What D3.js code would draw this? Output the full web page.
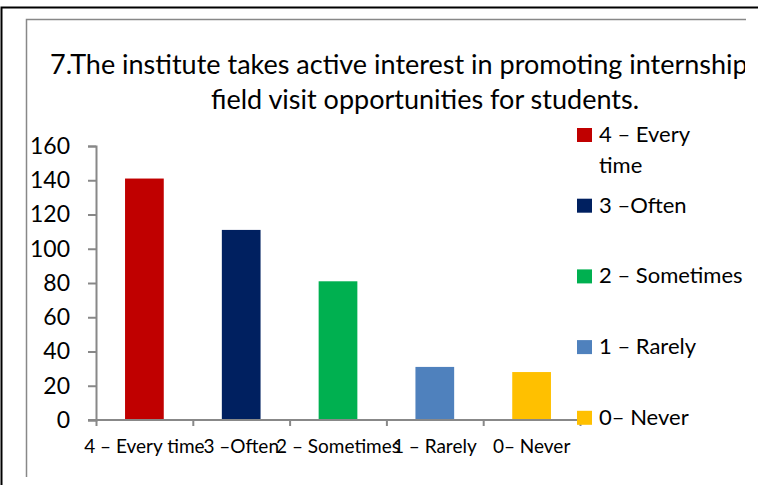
<!DOCTYPE html>
<html>
<head>
<meta charset="utf-8">
<script src="https://cdn.jsdelivr.net/npm/d3@7"></script>
<style>
  body { margin: 0; background: #fff; }
  svg { display: block; font-family: Lato, "Open Sans", sans-serif; }
</style>
</head>
<body>
<svg id="chart" width="758" height="485"></svg>
<script>
// data
const categories = ['4 \u2013 Every time', '3 \u2013Often', '2 \u2013 Sometimes', '1 \u2013 Rarely', '0\u2013 Never']
const counts = [141, 111, 81, 31, 28]
const colors = ['#c00000', '#002060', '#00b050', '#4f81bd', '#ffc000']
const yTicks = [0, 20, 40, 60, 80, 100, 120, 140, 160]
const titleLines = ['7.The institute takes active interest in promoting internship', 'field visit opportunities for students.']
const legendLines = [['4 \u2013 Every', 'time'], ['3 \u2013Often'], ['2 \u2013 Sometimes'], ['1 \u2013 Rarely'], ['0\u2013 Never']]

let svg = d3.select('#chart')

// frames
svg.append('path')
  .attr('d', 'M1.5,485 V7.5 H758')
  .attr('fill', 'none')
  .attr('stroke', '#000')
  .attr('stroke-width', 2)
svg.append('path')
  .attr('d', 'M26.5,477 V19.5 H746')
  .attr('fill', 'none')
  .attr('stroke', '#888')
  .attr('stroke-width', 1.5)

// the first title line runs past the chart area, as in the source
svg.append('clipPath')
  .attr('id', 'clip')
  .append('rect')
  .attr('x', 27).attr('y', 20).attr('width', 718).attr('height', 460)

// title
let title = svg.append('g').attr('clip-path', 'url(#clip)')
title.selectAll('text')
  .data(titleLines)
  .enter()
  .append('text')
  .attr('x', (d, i) => i === 0 ? 50 : 425)
  .attr('y', (d, i) => 74 + i * 35)
  .attr('text-anchor', (d, i) => i === 0 ? 'start' : 'middle')
  .attr('font-size', 27)
  .attr('fill', '#000')
  .text(d => d)

let y = d3.scaleLinear()
  .domain([0, 160])
  .range([420, 146])

let x = d3.scaleBand()
  .domain(categories)
  .range([96, 580])
  .paddingInner(0.6)
  .paddingOuter(0.3)

// bars
svg.selectAll('rect.bar')
  .data(categories)
  .enter()
  .append('rect')
  .attr('class', 'bar')
  .attr('x', d => x(d))
  .attr('width', x.bandwidth())
  .attr('y', (d, i) => y(counts[i]))
  .attr('height', (d, i) => y(0) - y(counts[i]))
  .attr('fill', (d, i) => colors[i])

// y axis
let yAxis = d3.axisLeft(y)
  .tickValues(yTicks)
  .tickSize(8)
  .tickPadding(18)
svg.append('g')
  .attr('transform', 'translate(96,0)')
  .call(yAxis)
  .call(g => g.selectAll('path, line').attr('stroke', '#888').attr('stroke-width', 2))
  .call(g => g.selectAll('text').attr('font-size', 23).attr('fill', '#000').attr('font-family', 'Lato'))

// x axis, ticks sit between categories
let edges = d3.scaleLinear().domain([0, categories.length]).range([96, 580])
let xAxis = d3.axisBottom(edges)
  .tickValues(d3.range(categories.length + 1))
  .tickSize(6)
  .tickFormat('')
svg.append('g')
  .attr('transform', 'translate(0,420)')
  .call(xAxis)
  .call(g => g.select('.domain').attr('d', 'M88,0H580').attr('stroke', '#888').attr('stroke-width', 2))
  .call(g => g.selectAll('line').attr('stroke', '#888').attr('stroke-width', 2))

svg.append('g')
  .selectAll('text')
  .data(categories)
  .enter()
  .append('text')
  .attr('x', d => x(d) + x.bandwidth() / 2)
  .attr('y', 453)
  .attr('text-anchor', 'middle')
  .attr('font-size', 19)
  .attr('fill', '#000')
  .text(d => d)

// legend
let legend = svg.append('g')
  .selectAll('g')
  .data(legendLines)
  .enter()
  .append('g')
  .attr('transform', (d, i) => 'translate(577,' + (142 + i * 70.7) + ')')

legend.append('rect')
  .attr('x', 0)
  .attr('y', -14)
  .attr('width', 15)
  .attr('height', 14)
  .attr('fill', (d, i) => colors[i])

legend.append('text')
  .attr('x', 22)
  .attr('y', 0)
  .attr('font-size', 22)
  .attr('fill', '#000')
  .selectAll('tspan')
  .data(d => d)
  .enter()
  .append('tspan')
  .attr('x', 22)
  .attr('dy', (d, i) => i === 0 ? 0 : 31)
  .text(d => d)
</script>
</body>
</html>
